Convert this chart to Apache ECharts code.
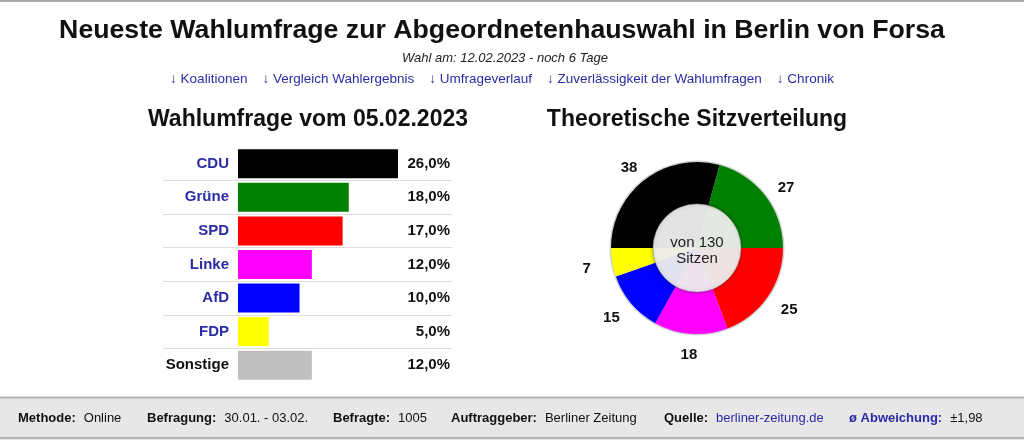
<!DOCTYPE html>
<html><head><meta charset="utf-8">
<script src="https://cdn.jsdelivr.net/npm/echarts@6/dist/echarts.min.js"></script>
<style>html,body{margin:0;padding:0;background:#fff}#c{width:1024px;height:440px}</style>
</head><body><div id="c"></div>
<script>
const mainTitle = 'Neueste Wahlumfrage zur Abgeordnetenhauswahl in Berlin von Forsa';
const subTitle = 'Wahl am: 12.02.2023 - noch 6 Tage';
const links = ['↓ Koalitionen', '↓ Vergleich Wahlergebnis', '↓ Umfrageverlauf', '↓ Zuverlässigkeit der Wahlumfragen', '↓ Chronik'];
const barTitle = 'Wahlumfrage vom 05.02.2023';
const pieTitle = 'Theoretische Sitzverteilung';

const parties = ['CDU', 'Grüne', 'SPD', 'Linke', 'AfD', 'FDP', 'Sonstige'];
const pollValues = [26, 18, 17, 12, 10, 5, 12];
const partyColors = ['#000000', '#008000', '#ff0000', '#ff00ff', '#0000ff', '#ffff00', '#c0c0c0'];

const seatParties = ['CDU', 'Grüne', 'SPD', 'Linke', 'AfD', 'FDP'];
const seats = [38, 27, 25, 18, 15, 7];
const seatColors = ['#000000', '#008000', '#ff0000', '#ff00ff', '#0000ff', '#ffff00'];
const totalSeats = 130;

const footerLabels = ['Methode:', 'Befragung:', 'Befragte:', 'Auftraggeber:', 'Quelle:', 'ø Abweichung:'];
const footerValues = ['Online', '30.01. - 03.02.', '1005', 'Berliner Zeitung', 'berliner-zeitung.de', '±1,98'];

const FONT = '"Liberation Sans", Arial, sans-serif';
const LINK = '#2b2ba6';
const chart = echarts.init(document.getElementById('c'));

const fmtPct = v => v.toFixed(1).replace('.', ',') + '%';
const PCX = 697, PCY = 248;

const graphics = [];
graphics.push({type: 'rect', shape: {x: 0, y: 0, width: 1024, height: 2}, style: {fill: '#aaaaaa'}, silent: true});
graphics.push({type: 'text', x: 502, y: 31, style: {text: mainTitle, font: 'bold 26.7px ' + FONT, fill: '#111', textAlign: 'center', textVerticalAlign: 'middle'}});
graphics.push({type: 'text', x: 505, y: 58, style: {text: subTitle, font: 'italic 13px ' + FONT, fill: '#222', textAlign: 'center', textVerticalAlign: 'middle'}});
graphics.push({type: 'text', x: 502, y: 79, style: {text: links.join('    '), font: '13.5px ' + FONT, fill: LINK, textAlign: 'center', textVerticalAlign: 'middle'}});
graphics.push({type: 'text', x: 308, y: 120, style: {text: barTitle, font: 'bold 23px ' + FONT, fill: '#111', textAlign: 'center', textVerticalAlign: 'middle'}});
graphics.push({type: 'text', x: 697, y: 120, style: {text: pieTitle, font: 'bold 23px ' + FONT, fill: '#111', textAlign: 'center', textVerticalAlign: 'middle'}});
// footer
graphics.push({type: 'rect', shape: {x: 0, y: 398, width: 1024, height: 42}, style: {fill: '#e7e7e7'}, silent: true});
graphics.push({type: 'rect', shape: {x: 0, y: 396.5, width: 1024, height: 2}, style: {fill: '#b4b4b4'}, silent: true});
graphics.push({type: 'rect', shape: {x: 0, y: 437, width: 1024, height: 2}, style: {fill: '#b4b4b4'}, silent: true});
const footerX = [18, 147, 333, 451, 664, 849];
footerLabels.forEach((lab, i) => {
  const isAbw = i === 5;
  graphics.push({type: 'text', x: footerX[i], y: 418, style: {
    text: '{b|' + lab + '}{v|' + footerValues[i] + '}',
    textVerticalAlign: 'middle',
    rich: {
      b: {font: 'bold 13px ' + FONT, fill: isAbw ? LINK : '#111', padding: [0, 8, 0, 0]},
      v: {font: '13px ' + FONT, fill: i === 4 ? LINK : '#111'}
    }
  }});
});
// donut decorations
graphics.push({type: 'circle', shape: {cx: PCX, cy: PCY, r: 87.5}, style: {fill: '#d2d2d2'}, z: 0, silent: true});
graphics.push({type: 'circle', shape: {cx: PCX, cy: PCY, r: 44}, style: {fill: 'rgba(244,244,244,0.93)', stroke: 'rgba(150,150,150,0.5)', lineWidth: 1, shadowBlur: 4, shadowColor: 'rgba(0,0,0,0.4)'}, z: 100, silent: true});
graphics.push({type: 'text', x: PCX, y: 251, z: 101, style: {text: 'von ' + totalSeats + '\nSitzen', font: '15px ' + FONT, fill: '#222', textAlign: 'center', textVerticalAlign: 'middle', lineHeight: 16}});

const scale = 160 / 26;
chart.setOption({
  animation: false,
  textStyle: {fontFamily: FONT},
  graphic: graphics,
  grid: {left: 163, width: 289, top: 147, height: 235},
  xAxis: {type: 'value', min: -75 / scale, max: 214 / scale, show: false},
  yAxis: [
    {type: 'category', data: parties, inverse: true, position: 'left',
     axisLine: {show: false}, axisTick: {show: false},
     axisLabel: {inside: true, align: 'right', margin: 66, fontWeight: 'bold', fontSize: 15,
       color: (v, i) => v === 'Sonstige' ? '#111' : LINK},
     splitLine: {show: true, showMinLine: false, showMaxLine: false, lineStyle: {color: '#dddddd', width: 1}}},
    {type: 'category', data: pollValues.map(fmtPct), inverse: true, position: 'right',
     axisLine: {show: false}, axisTick: {show: false},
     axisLabel: {inside: true, align: 'right', margin: 2, fontWeight: 'bold', fontSize: 15, color: '#111'},
     splitLine: {show: false}}
  ],
  series: [
    {type: 'bar', yAxisIndex: 0, barWidth: 29, silent: true,
     data: pollValues.map((v, i) => ({value: v, itemStyle: {color: partyColors[i]}}))},
    {type: 'pie', center: [PCX, PCY], radius: [0, 86], startAngle: 180, clockwise: true, silent: true,
     label: {show: false}, labelLine: {show: false},
     data: seats.map((v, i) => ({name: seatParties[i], value: v, itemStyle: {color: seatColors[i]}}))},
    {type: 'pie', center: [PCX, 251], radius: [99, 119], startAngle: 180, clockwise: true, silent: true,
     itemStyle: {color: 'rgba(0,0,0,0)'},
     label: {show: true, position: 'inside', rotate: 0, formatter: '{c}', fontWeight: 'bold', fontSize: 15, color: '#111'},
     labelLine: {show: false},
     labelLayout: p => {
       const r = p.labelRect;
       const cx = r.x + r.width / 2, cy = r.y + r.height / 2;
       return {x: cx, y: 251 + (cy - 251) * 0.93};
     },
     data: seats.map((v, i) => ({name: seatParties[i], value: v}))}
  ]
});
</script></body></html>
